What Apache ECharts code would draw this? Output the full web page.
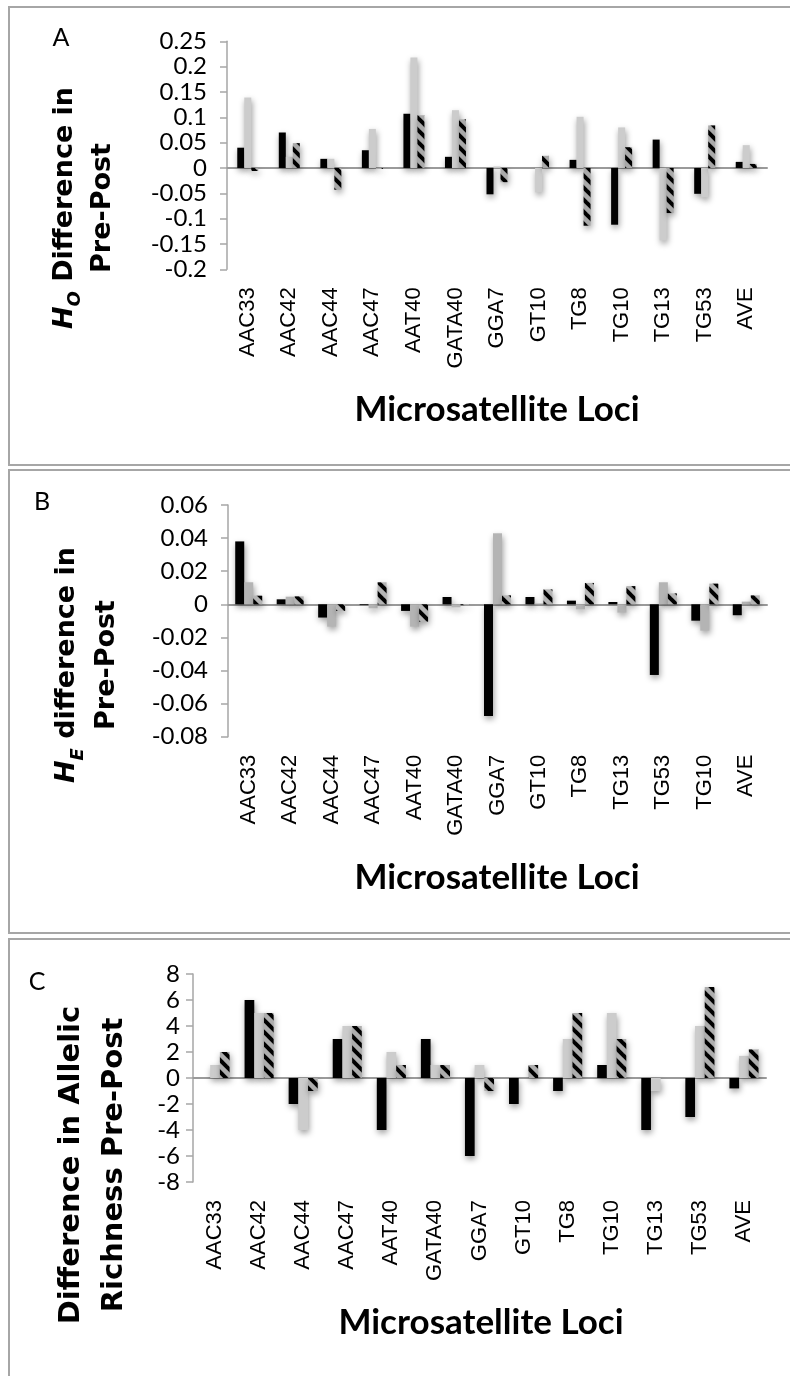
<!DOCTYPE html>
<html><head><meta charset="utf-8">
<script src="https://cdn.jsdelivr.net/npm/echarts@6/dist/echarts.min.js"></script>
<style>html,body{margin:0;padding:0;background:#fff}#c{width:790px;height:1376px}</style>
</head><body><div id="c"></div>
<script>
// ---- data ----
const lociA = ['AAC33','AAC42','AAC44','AAC47','AAT40','GATA40','GGA7','GT10','TG8','TG10','TG13','TG53','AVE'];
const lociB = ['AAC33','AAC42','AAC44','AAC47','AAT40','GATA40','GGA7','GT10','TG8','TG13','TG53','TG10','AVE'];
const lociC = ['AAC33','AAC42','AAC44','AAC47','AAT40','GATA40','GGA7','GT10','TG8','TG10','TG13','TG53','AVE'];

const hoSeries1 = [0.040, 0.070, 0.018, 0.035, 0.107, 0.022, -0.052, 0, 0.016, -0.112, 0.056, -0.051, 0.012];
const hoSeries2 = [0.139, 0.022, 0.018, 0.077, 0.218, 0.114, 0.003, -0.048, 0.101, 0.080, -0.143, -0.058, 0.045];
const hoSeries3 = [-0.006, 0.049, -0.043, -0.002, 0.104, 0.096, -0.028, 0.024, -0.114, 0.041, -0.089, 0.084, 0.008];

const heSeries1 = [0.038, 0.003, -0.008, -0.0005, -0.004, 0.0044, -0.0675, 0.0044, 0.0022, 0.0014, -0.0427, -0.0099, -0.0066];
const heSeries2 = [0.0133, 0.0046, -0.0135, -0.0024, -0.0135, -0.0018, 0.0429, 0.0005, -0.003, -0.005, 0.0133, -0.0159, 0.0016];
const heSeries3 = [0.0052, 0.0048, -0.004, 0.0133, -0.0105, -0.0005, 0.0054, 0.009, 0.0129, 0.011, 0.0066, 0.0125, 0.0054];

const arSeries1 = [0, 6, -2, 3, -4, 3, -6, -2, -1, 1, -4, -3, -0.8];
const arSeries2 = [1, 5, -4, 4, 2, 1, 1, 0, 3, 5, -1, 4, 1.7];
const arSeries3 = [2, 5, -1, 4, 1, 1, -1, 1, 5, 3, 0, 7, 2.2];

const axisA = {min: -0.2, max: 0.25, interval: 0.05};
const axisB = {min: -0.08, max: 0.06, interval: 0.02};
const axisC = {min: -8, max: 8, interval: 2};

// ---- styles ----
function hatch(base) {
  const s = 12;
  const c = document.createElement('canvas');
  c.width = s; c.height = s;
  const g = c.getContext('2d');
  g.fillStyle = base; g.fillRect(0, 0, s, s);
  g.strokeStyle = '#000'; g.lineWidth = 4;
  for (let k = -1; k <= 1; k++) {
    g.beginPath(); g.moveTo(-3, -3 + k * s); g.lineTo(s + 3, s + 3 + k * s); g.stroke();
  }
  return {image: c, repeat: 'repeat'};
}
const shadow = {shadowBlur: 6, shadowOffsetX: 1, shadowOffsetY: 3, shadowColor: 'rgba(0,0,0,0.4)'};

const panels = [
  {cats: lociA, s: [hoSeries1, hoSeries2, hoSeries3], ax: axisA, grid: {left: 227, top: 41.3, width: 540, height: 228}, bw: 7, gray: '#cccccc', hb: '#a9a9a9', lm: 20},
  {cats: lociB, s: [heSeries1, heSeries2, heSeries3], ax: axisB, grid: {left: 228, top: 505, width: 539, height: 231.7}, bw: 9, gray: '#b4b4b4', hb: '#b4b4b4', lm: 20},
  {cats: lociC, s: [arSeries1, arSeries2, arSeries3], ax: axisC, grid: {left: 193, top: 974, width: 573, height: 208}, bw: 9.7, gray: '#cccccc', hb: '#adadad', lm: 13}
];

const grid = [], xAxis = [], yAxis = [], series = [];
panels.forEach((p, i) => {
  grid.push(p.grid);
  xAxis.push({gridIndex: i, type: 'category', data: p.cats, position: 'bottom',
    axisLine: {show: false, onZero: false}, axisTick: {show: false},
    axisLabel: {interval: 0, rotate: 90, margin: 18, fontFamily: 'Liberation Sans', fontSize: 22, color: '#000'}});
  xAxis.push({gridIndex: i, type: 'category', data: p.cats, position: 'top',
    axisLine: {show: true, onZero: true, lineStyle: {color: '#9a9a9a', width: 2}}, axisTick: {show: false}, axisLabel: {show: false}});
  yAxis.push({gridIndex: i, type: 'value', min: p.ax.min, max: p.ax.max, interval: p.ax.interval,
    axisLine: {show: true, lineStyle: {color: '#a6a6a6', width: 1.5}},
    axisTick: {show: true, length: 7, lineStyle: {color: '#a6a6a6', width: 1.5}},
    splitLine: {show: false},
    axisLabel: {margin: p.lm, fontFamily: 'Lato', fontSize: 24, color: '#000'}});
  const colors = ['#000000', p.gray, hatch(p.hb)];
  p.s.forEach((d, j) => {
    series.push({type: 'bar', name: 'Series ' + (j + 1), xAxisIndex: 2 * i, yAxisIndex: i, data: d,
      barWidth: p.bw, barGap: '0%', itemStyle: Object.assign({color: colors[j]}, shadow)});
  });
});

function ytitle(x, y, text, size, lh) {
  const f = '"DejaVu Sans", Verdana, sans-serif';
  return {type: 'text', x: x, y: y, rotation: Math.PI / 2,
    style: {text: text, align: 'center', verticalAlign: 'middle', fill: '#000',
      font: 'bold ' + size + 'px ' + f,
      rich: {
        t: {font: 'bold ' + size + 'px ' + f, lineHeight: lh},
        h: {font: 'italic bold ' + size + 'px ' + f, lineHeight: lh},
        s: {font: 'italic bold ' + Math.round(size * 0.68) + 'px ' + f, lineHeight: Math.round(size * 0.8), verticalAlign: 'bottom'}
      }}};
}
function txt(x, y, text, font) {
  return {type: 'text', x: x, y: y, style: {text: text, align: 'center', verticalAlign: 'middle', fill: '#000', font: font}};
}
const xtFont = 'bold 35px Lato, sans-serif';
const lblFont = '25px Lato, sans-serif';

const graphic = [
  {type: 'rect', shape: {x: 9, y: 7, width: 800, height: 458}, style: {fill: 'none', stroke: '#a6a6a6', lineWidth: 2}},
  {type: 'rect', shape: {x: 9, y: 470, width: 800, height: 463}, style: {fill: 'none', stroke: '#a6a6a6', lineWidth: 2}},
  {type: 'rect', shape: {x: 9, y: 939, width: 800, height: 460}, style: {fill: 'none', stroke: '#a6a6a6', lineWidth: 2}},
  txt(61, 38, 'A', lblFont), txt(42, 502, 'B', lblFont), txt(37, 982, 'C', lblFont),
  ytitle(84, 208, '{h|H}{s|O}{t| Difference in}\n{t|Pre-Post}', 27, 38),
  ytitle(87, 665, '{h|H}{s|E}{t| difference in}\n{t|Pre-Post}', 27, 40),
  ytitle(93, 1165, '{t|Difference in Allelic}\n{t|Richness Pre-Post}', 29, 43),
  txt(497, 410, 'Microsatellite Loci', xtFont),
  txt(497, 878, 'Microsatellite Loci', xtFont),
  txt(481, 1323, 'Microsatellite Loci', xtFont)
];

const chart = echarts.init(document.getElementById('c'), null, {renderer: 'canvas'});
chart.setOption({animation: false, backgroundColor: '#fff', grid, xAxis, yAxis, series, graphic});
</script></body></html>
